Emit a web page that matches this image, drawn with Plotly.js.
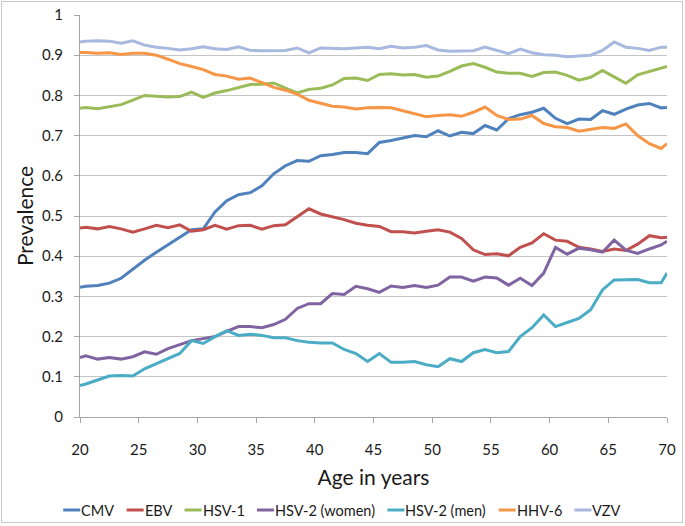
<!DOCTYPE html>
<html>
<head>
<meta charset="utf-8">
<script src="https://cdn.plot.ly/plotly-3.0.1.min.js"></script>
<style>
  html, body { margin: 0; padding: 0; background: #fff; }
  #wrap { position: relative; width: 685px; height: 526px; }
  #chart { width: 685px; height: 526px; }
  #frame { position: absolute; left: 1px; top: 1px; width: 680px; height: 520px; border: 1px solid #c8c8c8; pointer-events: none; }
</style>
</head>
<body>
<div id="wrap"><div id="chart"></div><div id="frame"></div></div>
<script>
const ages = [20, 20.5, 21.5, 22.5, 23.5, 24.5, 25.5, 26.5, 27.5, 28.5, 29.5, 30.5, 31.5, 32.5, 33.5, 34.5, 35.5, 36.5, 37.5, 38.5, 39.5, 40.5, 41.5, 42.5, 43.5, 44.5, 45.5, 46.5, 47.5, 48.5, 49.5, 50.5, 51.5, 52.5, 53.5, 54.5, 55.5, 56.5, 57.5, 58.5, 59.5, 60.5, 61.5, 62.5, 63.5, 64.5, 65.5, 66.5, 67.5, 68.5, 69.5, 70];

const cmv = [0.323, 0.325, 0.327, 0.333, 0.345, 0.368, 0.39, 0.41, 0.428, 0.447, 0.466, 0.468, 0.51, 0.538, 0.553, 0.558, 0.575, 0.605, 0.625, 0.638, 0.636, 0.65, 0.653, 0.658, 0.658, 0.655, 0.683, 0.688, 0.694, 0.7, 0.697, 0.712, 0.699, 0.708, 0.705, 0.725, 0.714, 0.742, 0.752, 0.758, 0.768, 0.743, 0.73, 0.741, 0.74, 0.762, 0.753, 0.766, 0.776, 0.78, 0.769, 0.77];

const ebv = [0.47, 0.472, 0.468, 0.474, 0.468, 0.46, 0.468, 0.477, 0.471, 0.478, 0.462, 0.466, 0.477, 0.467, 0.476, 0.477, 0.467, 0.476, 0.478, 0.498, 0.518, 0.505, 0.498, 0.491, 0.482, 0.477, 0.474, 0.461, 0.461, 0.458, 0.462, 0.466, 0.46, 0.444, 0.416, 0.404, 0.406, 0.401, 0.422, 0.433, 0.456, 0.44, 0.437, 0.422, 0.418, 0.412, 0.418, 0.414, 0.43, 0.451, 0.446, 0.447];

const hsv1 = [0.768, 0.77, 0.767, 0.772, 0.777, 0.788, 0.8, 0.798, 0.796, 0.797, 0.808, 0.795, 0.806, 0.812, 0.819, 0.827, 0.828, 0.831, 0.818, 0.806, 0.815, 0.818, 0.826, 0.842, 0.843, 0.837, 0.852, 0.854, 0.851, 0.852, 0.845, 0.848, 0.86, 0.873, 0.879, 0.87, 0.858, 0.855, 0.855, 0.847, 0.857, 0.858, 0.85, 0.838, 0.845, 0.862, 0.846, 0.83, 0.851, 0.86, 0.869, 0.872];

const hsv2Women = [0.148, 0.152, 0.144, 0.148, 0.144, 0.15, 0.162, 0.156, 0.17, 0.18, 0.19, 0.195, 0.2, 0.213, 0.225, 0.225, 0.222, 0.23, 0.243, 0.27, 0.282, 0.282, 0.307, 0.305, 0.325, 0.319, 0.31, 0.326, 0.322, 0.327, 0.322, 0.328, 0.348, 0.348, 0.338, 0.348, 0.346, 0.328, 0.345, 0.327, 0.358, 0.422, 0.405, 0.42, 0.416, 0.41, 0.44, 0.415, 0.407, 0.418, 0.428, 0.437];

const hsv2Men = [0.078, 0.082, 0.092, 0.102, 0.103, 0.102, 0.12, 0.133, 0.145, 0.158, 0.19, 0.183, 0.2, 0.215, 0.203, 0.206, 0.203, 0.197, 0.197, 0.19, 0.186, 0.184, 0.184, 0.168, 0.158, 0.138, 0.158, 0.136, 0.136, 0.138, 0.13, 0.125, 0.145, 0.138, 0.16, 0.168, 0.16, 0.163, 0.2, 0.222, 0.254, 0.225, 0.235, 0.245, 0.267, 0.316, 0.341, 0.341, 0.342, 0.334, 0.334, 0.358];

const hhv6 = [0.907, 0.907, 0.905, 0.906, 0.902, 0.905, 0.905, 0.9, 0.89, 0.879, 0.872, 0.864, 0.852, 0.848, 0.84, 0.843, 0.832, 0.82, 0.813, 0.803, 0.788, 0.78, 0.773, 0.771, 0.766, 0.769, 0.77, 0.769, 0.762, 0.755, 0.747, 0.75, 0.752, 0.748, 0.758, 0.771, 0.75, 0.74, 0.741, 0.75, 0.73, 0.722, 0.72, 0.711, 0.716, 0.72, 0.718, 0.729, 0.7, 0.68, 0.668, 0.68];

const vzv = [0.933, 0.935, 0.936, 0.935, 0.93, 0.936, 0.925, 0.92, 0.917, 0.913, 0.916, 0.921, 0.916, 0.914, 0.921, 0.912, 0.911, 0.911, 0.912, 0.918, 0.906, 0.918, 0.917, 0.916, 0.918, 0.92, 0.916, 0.922, 0.918, 0.92, 0.924, 0.913, 0.91, 0.911, 0.911, 0.92, 0.912, 0.904, 0.915, 0.906, 0.901, 0.9, 0.896, 0.898, 0.9, 0.912, 0.933, 0.92, 0.917, 0.912, 0.92, 0.92];

const seriesNames = ["CMV", "EBV", "HSV-1", "HSV-2 (women)", "HSV-2 (men)", "HHV-6", "VZV"];
const seriesValues = [cmv, ebv, hsv1, hsv2Women, hsv2Men, hhv6, vzv];
const seriesColors = ["#4F81BD", "#C0504D", "#9BBB59", "#8064A2", "#4BACC6", "#F79646", "#A7B9DE"];

const yTickVals = [0, 0.1, 0.2, 0.3, 0.4, 0.5, 0.6, 0.7, 0.8, 0.9, 1];
const yTickText = ["0", "0.1", "0.2", "0.3", "0.4", "0.5", "0.6", "0.7", "0.8", "0.9", "1"];
const xTickVals = [20, 25, 30, 35, 40, 45, 50, 55, 60, 65, 70];

const FONT = "Lato, 'Open Sans', sans-serif";
const TXT = "#1a1a1a";

// plot geometry
const W = 685, H = 526;
const M = { l: 80, r: 18, t: 15, b: 109 };
const PW = W - M.l - M.r, PH = H - M.t - M.b;

const traces = seriesNames.map((name, i) => ({
  type: "scatter",
  mode: "lines",
  name: name,
  x: ages,
  y: seriesValues[i],
  line: { color: seriesColors[i], width: 3 },
  showlegend: false
}));

// Custom legend laid out like the reference (short line sample, text right after)
const legendFontSize = 14.5;
const ctx = document.createElement("canvas").getContext("2d");
ctx.font = legendFontSize + "px Lato";
const textW = seriesNames.map(n => ctx.measureText(n).width);
const sampleLen = 17, textPad = 1, itemGap = 12.5;
const totalW = textW.reduce((a, w) => a + sampleLen + textPad + w, 0) + itemGap * (seriesNames.length - 1);
const legendCenterPx = W / 2 - 0.5;
const legendYpx = 510;
const toPx = px => (px - M.l) / PW;
const toPy = py => (H - M.b - py) / PH;

const shapes = [];
const annotations = [];
let cur = legendCenterPx - totalW / 2;
seriesNames.forEach((n, i) => {
  shapes.push({
    type: "line", xref: "paper", yref: "paper",
    x0: toPx(cur), x1: toPx(cur + sampleLen),
    y0: toPy(legendYpx), y1: toPy(legendYpx),
    line: { color: seriesColors[i], width: 3 }
  });
  annotations.push({
    xref: "paper", yref: "paper",
    x: toPx(cur + sampleLen + textPad - 2), y: toPy(legendYpx),
    xanchor: "left", yanchor: "middle",
    text: n, showarrow: false,
    font: { family: FONT, size: legendFontSize, color: TXT }
  });
  cur += sampleLen + textPad + textW[i] + itemGap;
});

const layout = {
  width: W,
  height: H,
  margin: { l: M.l, r: M.r, t: M.t, b: M.b, pad: 0 },
  paper_bgcolor: "#ffffff",
  plot_bgcolor: "#ffffff",
  font: { family: FONT, color: TXT, size: 15 },
  showlegend: false,
  shapes: shapes,
  annotations: annotations,
  xaxis: {
    range: [20, 70],
    tickmode: "array",
    tickvals: xTickVals,
    ticks: "outside",
    ticklen: 5,
    tickcolor: "#a6a6a6",
    ticklabelstandoff: 14,
    showgrid: false,
    showline: true,
    linecolor: "#a6a6a6",
    linewidth: 1,
    zeroline: false,
    tickfont: { family: FONT, size: 15, color: TXT },
    title: { text: "Age in years", font: { family: FONT, size: 21, color: TXT }, standoff: 13 }
  },
  yaxis: {
    range: [0, 1],
    tickmode: "array",
    tickvals: yTickVals,
    ticktext: yTickText,
    ticks: "outside",
    ticklen: 5,
    tickcolor: "#a6a6a6",
    ticklabelstandoff: 8,
    showgrid: true,
    gridcolor: "#c4c4c4",
    gridwidth: 1,
    showline: true,
    linecolor: "#a6a6a6",
    linewidth: 1,
    zeroline: false,
    tickfont: { family: FONT, size: 15, color: TXT },
    title: { text: "Prevalence", font: { family: FONT, size: 21, color: TXT }, standoff: 2 }
  }
};

Plotly.newPlot("chart", traces, layout, { displayModeBar: false, staticPlot: true });
</script>
</body>
</html>
